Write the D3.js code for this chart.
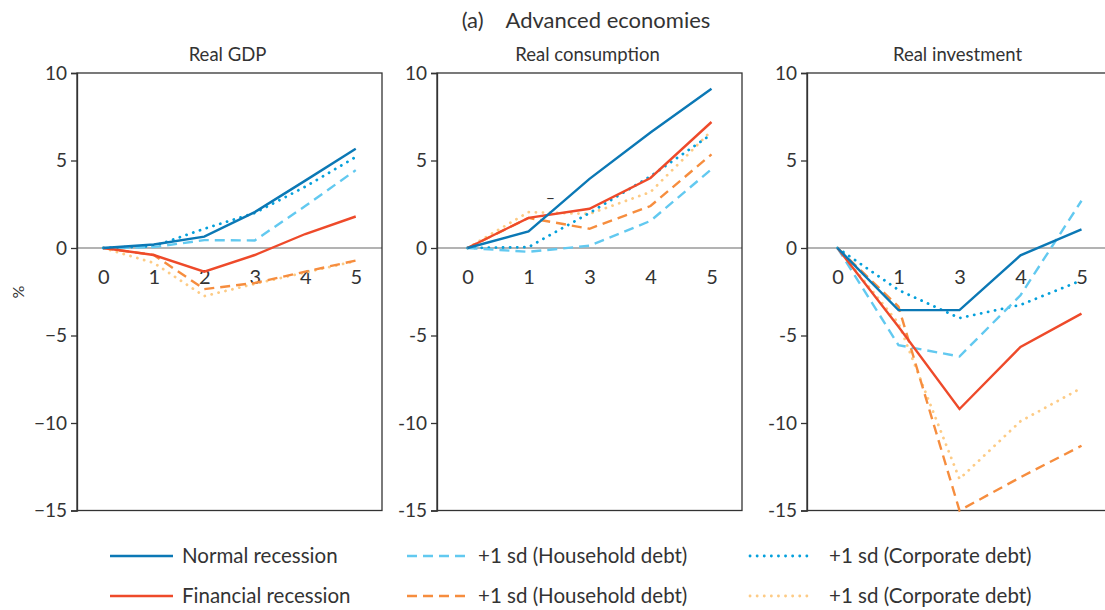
<!DOCTYPE html>
<html>
<head>
<meta charset="utf-8">
<script src="https://cdn.jsdelivr.net/npm/d3@7"></script>
<style>
  body { margin: 0; background: #fff; }
  text { font-family: Lato, "Open Sans", sans-serif; fill: #333; }
</style>
</head>
<body>
<div id="d3"></div>
<script>
// categories (years after peak)
const gdpTicks = ["0", "1", "2", "3", "4", "5"];
const consTicks = ["0", "1", "3", "4", "5"];
const invTicks = ["0", "1", "3", "4", "5"];
const yTicks = [10, 5, 0, -5, -10, -15];

// Real GDP
const gdpNormal = [0, 0.2, 0.65, 2.05, 3.85, 5.67];
const gdpNormalHH = [0, 0.05, 0.45, 0.43, 2.4, 4.45];
const gdpNormalCorp = [0, 0.1, 1.1, 2.0, 3.5, 5.2];
const gdpFin = [0, -0.4, -1.35, -0.4, 0.8, 1.8];
const gdpFinHH = [0, -0.4, -2.35, -2.0, -1.35, -0.72];
const gdpFinCorp = [0, -0.85, -2.75, -2.05, -1.4, -0.75];

// Real consumption
const consNormal = [0, 0.95, 3.95, 6.6, 9.1];
const consNormalHH = [0, -0.22, 0.13, 1.55, 4.5];
const consNormalCorp = [0, 0.05, 2.0, 4.1, 6.5];
const consFin = [0, 1.72, 2.24, 4.0, 7.2];
const consFinHH = [0, 1.72, 1.1, 2.4, 5.35];
const consFinCorp = [0, 2.05, 1.95, 3.2, 6.7];

// Real investment
const invNormal = [0, -3.55, -3.55, -0.42, 1.07];
const invNormalHH = [0, -5.55, -6.2, -2.7, 2.7];
const invNormalCorp = [0, -2.4, -4.0, -3.25, -1.85];
const invFin = [0, -4.5, -9.2, -5.65, -3.75];
const invFinHH = [0, -3.35, -15.0, -13.1, -11.3];
const invFinCorp = [0, -4.3, -13.2, -9.9, -8.0];

const seriesStyles = [
  { name: "Normal recession", color: "#0b78b5", dash: null, cap: "butt" },
  { name: "+1 sd (Household debt)", color: "#62c9f0", dash: "10,6", cap: "butt" },
  { name: "+1 sd (Corporate debt)", color: "#04a0dc", dash: "0.1,7", cap: "round" },
  { name: "Financial recession", color: "#ee4a2a", dash: null, cap: "butt" },
  { name: "+1 sd (Household debt)", color: "#f68d3e", dash: "10,6", cap: "butt" },
  { name: "+1 sd (Corporate debt)", color: "#fdcb85", dash: "0.1,7", cap: "round" }
];

const panels = [
  { title: "Real GDP", ticks: gdpTicks, left: 77, pad: 0.52, minus: "\u2212",
    series: [gdpNormal, gdpNormalHH, gdpNormalCorp, gdpFin, gdpFinHH, gdpFinCorp] },
  { title: "Real consumption", ticks: consTicks, left: 437, pad: 0.5, minus: "-",
    series: [consNormal, consNormalHH, consNormalCorp, consFin, consFinHH, consFinCorp] },
  { title: "Real investment", ticks: invTicks, left: 807, pad: 0.5, minus: "-",
    series: [invNormal, invNormalHH, invNormalCorp, invFin, invFinHH, invFinCorp] }
];

const W = 1105, H = 610;
const panelW = 305;
const plotTop = 73, plotBottom = 510.5;

const svg = d3.select("#d3").append("svg").attr("width", W).attr("height", H);

const y = d3.scaleLinear().domain([-15, 10]).range([plotBottom, plotTop]);

// main title
svg.append("text")
  .attr("x", 586).attr("y", 28)
  .attr("text-anchor", "middle")
  .style("font-size", "22px")
  .text("(a)\u2002\u2002Advanced economies");

// y label
svg.append("text")
  .attr("transform", "translate(24,292) rotate(-90)")
  .attr("text-anchor", "middle")
  .style("font-size", "16px")
  .text("%");

// draw order: dashed/dotted first, solids on top
const drawOrder = [5, 4, 2, 1, 3, 0];

panels.forEach((p) => {
  const x = d3.scalePoint().domain(p.ticks).range([p.left, p.left + panelW]).padding(p.pad);
  const g = svg.append("g");

  // subtitle
  g.append("text")
    .attr("x", p.left + panelW / 2 - 2)
    .attr("y", 61)
    .attr("text-anchor", "middle")
    .style("font-size", "18.5px")
    .text(p.title);

  // zero line
  g.append("line")
    .attr("x1", p.left).attr("x2", p.left + panelW)
    .attr("y1", y(0)).attr("y2", y(0))
    .attr("stroke", "#9a9a9a").attr("stroke-width", 1.3);

  // frame: top, bottom, right
  g.append("rect")
    .attr("x", p.left).attr("y", plotTop)
    .attr("width", panelW).attr("height", plotBottom - plotTop)
    .attr("fill", "none").attr("stroke", "#333").attr("stroke-width", 1.3);

  // y axis
  const yAxis = d3.axisLeft(y)
    .tickValues(yTicks)
    .tickSize(6)
    .tickPadding(4)
    .tickFormat((d) => (d < 0 ? p.minus + Math.abs(d) : String(d)));
  const ya = g.append("g").attr("transform", `translate(${p.left},0)`).call(yAxis);
  ya.select(".domain").attr("stroke", "#333").attr("stroke-width", 1.3);
  ya.selectAll(".tick line").attr("stroke", "#333").attr("stroke-width", 1.3);
  ya.selectAll(".tick text")
    .style("font-size", "19px").style("font-family", "Lato, sans-serif")
    .attr("fill", "#333");

  // x tick labels along zero line
  const xAxis = d3.axisBottom(x).tickSize(0).tickPadding(22);
  const xa = g.append("g").attr("transform", `translate(0,${y(0)})`).call(xAxis);
  xa.select(".domain").remove();
  xa.selectAll(".tick text")
    .style("font-size", "20px").style("font-family", "Lato, sans-serif")
    .attr("fill", "#333");

  // lines
  const line = d3.line()
    .x((d, i) => x(p.ticks[i]))
    .y((d) => y(d));
  drawOrder.forEach((si) => {
    const s = seriesStyles[si];
    g.append("path")
      .datum(p.series[si])
      .attr("fill", "none")
      .attr("stroke", s.color)
      .attr("stroke-width", s.cap === "round" ? 2.8 : 2.4)
      .attr("stroke-dasharray", s.dash)
      .attr("stroke-linecap", s.cap)
      .attr("d", line);
  });

  // stray dash in the consumption panel
  if (p.title === "Real consumption") {
    g.append("text")
      .attr("x", x("1") + x.step() * 0.36)
      .attr("y", y(2.6))
      .attr("text-anchor", "middle")
      .style("font-size", "16px")
      .text("\u2013");
  }
});

// legend
const legendCols = [
  { lx: 110, tx: 182 },
  { lx: 407, tx: 478 },
  { lx: 750, tx: 829 }
];
const legendRows = [556, 596];
seriesStyles.forEach((s, i) => {
  const col = legendCols[i % 3];
  const ly = legendRows[Math.floor(i / 3)];
  svg.append("line")
    .attr("x1", col.lx).attr("x2", col.lx + 63)
    .attr("y1", ly).attr("y2", ly)
    .attr("stroke", s.color)
    .attr("stroke-width", s.cap === "round" ? 2.8 : 2.6)
    .attr("stroke-dasharray", s.dash)
    .attr("stroke-linecap", s.cap);
  svg.append("text")
    .attr("x", col.tx).attr("y", ly + 7)
    .style("font-size", "20.5px")
    .text(s.name);
});
</script>
</body>
</html>
